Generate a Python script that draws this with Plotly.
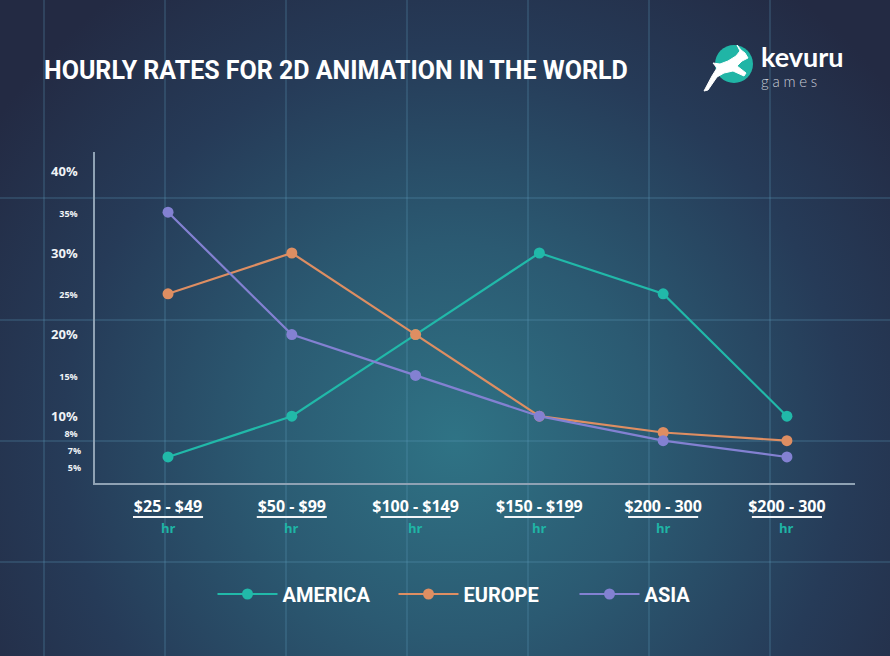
import base64
import plotly.graph_objects as go

# ---------------- data ----------------
categories = ["$25 - $49", "$50 - $99", "$100 - $149", "$150 - $199", "$200 - 300", "$200 - 300"]
unit_label = "hr"
america = [5, 10, 20, 30, 25, 10]
europe = [25, 30, 20, 10, 8, 7]
asia = [35, 20, 15, 10, 7, 5]
y_ticks_major = [10, 20, 30, 40]
y_ticks_minor = [8, 15, 25, 35]
y_ticks_lower = [7, 5]   # labels drawn just below their ticks (avoids crowding)
title = "HOURLY RATES FOR 2D ANIMATION IN THE WORLD"

# ---------------- layout geometry ----------------
W, H = 890, 656
L, R, T, B = 95, 855, 152, 483  # plot area in pixels
Y_RANGE = [1.81, 42.38]


def px(x):
    return (x - L) / (R - L)


def py(y):
    return (B - y) / (B - T)


# ---------------- background (gradient + grid) as svg ----------------
grid_x = [44, 165, 286, 407, 528, 649, 770]
grid_y = [198, 320, 441, 562]
lines = "".join(
    f'<line x1="{gx}" y1="0" x2="{gx}" y2="{H}" stroke="#5f9cbc" stroke-opacity="0.3" stroke-width="1.5"/>'
    for gx in grid_x
) + "".join(
    f'<line x1="0" y1="{gy}" x2="{W}" y2="{gy}" stroke="#5f9cbc" stroke-opacity="0.3" stroke-width="1.5"/>'
    for gy in grid_y
)
svg = f'''<svg xmlns="http://www.w3.org/2000/svg" width="{W}" height="{H}" viewBox="0 0 {W} {H}">
<defs><radialGradient id="g" cx="455" cy="440" r="560" gradientUnits="userSpaceOnUse">
<stop offset="0" stop-color="#2f7385"/>
<stop offset="0.35" stop-color="#2b5a72"/>
<stop offset="0.7" stop-color="#263b58"/>
<stop offset="1" stop-color="#232a43"/>
</radialGradient></defs>
<rect width="{W}" height="{H}" fill="url(#g)"/>
{lines}
</svg>'''
bg_uri = "data:image/svg+xml;base64," + base64.b64encode(svg.encode()).decode()

# ---------------- traces ----------------
xs = list(range(len(categories)))
# ASIA sits on an overlaid copy of the same y scale (matches="y"),
# so that copy can carry the bottom tick labels placed below their ticks
series = [("AMERICA", america, "#21b9a9", "y"), ("EUROPE", europe, "#de8e62", "y"),
          ("ASIA", asia, "#8381d2", "y2")]

fig = go.Figure()
for name, vals, col, yax in series:
    fig.add_trace(go.Scatter(
        x=xs, y=vals, name=name, mode="lines+markers", yaxis=yax,
        line=dict(color=col, width=2.2),
        marker=dict(color=col, size=11),
        customdata=categories,
        hovertemplate="%{customdata}: %{y}%<extra>" + name + "</extra>",
    ))


def small(v):
    return f"<span style='font-size:9px'><b>{v}%</b></span>"


main_ticks = sorted(y_ticks_major + y_ticks_minor)
main_text = [f"<b>{v}%</b>" if v in y_ticks_major else small(v) for v in main_ticks]

shapes = []
annotations = []
for i, _ in enumerate(categories):
    shapes.append(dict(type="line", xref="x", yref="paper", x0=i - 0.283, x1=i + 0.283,
                       y0=py(517), y1=py(517), line=dict(color="#f2f4f7", width=2)))
    annotations.append(dict(xref="x", yref="paper", x=i, y=py(528), text=f"<b>{unit_label}</b>",
                            showarrow=False, xanchor="center", yanchor="middle",
                            font=dict(family="Open Sans", size=13, color="#1fb5a6")))

# title
annotations.append(dict(xref="paper", yref="paper", x=px(42), y=py(70), text=title, showarrow=False,
                        xanchor="left", yanchor="middle",
                        font=dict(family="Roboto", size=25, color="#ffffff", weight="bold")))

# logo
shapes.append(dict(type="circle", xref="paper", yref="paper", x0=px(715), x1=px(753), y0=py(83), y1=py(45),
                   fillcolor="#20b5a6", line=dict(width=0)))
deer = [(748, 58), (745, 53), (741, 50), (737, 45), (740, 51), (736, 56), (728, 61), (720, 64), (713, 63),
        (717, 68), (712, 76), (704, 91), (708, 90), (717, 77), (724, 73), (733, 71), (744, 76), (746, 73),
        (737, 66), (742, 61)]
path = "M " + " L ".join(f"{px(a):.5f},{py(b):.5f}" for a, b in deer) + " Z"
shapes.append(dict(type="path", xref="paper", yref="paper", path=path, fillcolor="#ffffff",
                   line=dict(color="#ffffff", width=1)))
annotations.append(dict(
    xref="paper", yref="paper", x=px(759), y=py(65), showarrow=False, xanchor="left", yanchor="middle",
    align="left",
    text="<span style='font-size:27px;font-weight:bold;color:#ffffff'>kevuru</span><br>"
         "g\u2009\u2009a\u2009\u2009m\u2009\u2009e\u2009\u2009s",
    font=dict(family="Lato", size=15, color="#c9cdd6", weight=300)))

yfont = dict(family="Open Sans", size=13, color="#f0f3f6")
common_y = dict(range=Y_RANGE, tickmode="array", tickfont=yfont, showgrid=False, zeroline=False,
                ticks="", ticklabelstandoff=13)

fig.update_layout(
    width=W, height=H,
    margin=dict(l=L, r=W - R, t=T, b=H - B, pad=0),
    paper_bgcolor="#232a43", plot_bgcolor="rgba(0,0,0,0)",
    images=[dict(source=bg_uri, xref="paper", yref="paper", x=px(0), y=py(0),
                 sizex=W / (R - L), sizey=H / (B - T), xanchor="left", yanchor="top",
                 sizing="stretch", layer="below")],
    shapes=shapes, annotations=annotations,
    showlegend=True,
    legend=dict(orientation="h", x=px(484), xanchor="center", y=py(594), yanchor="middle",
                font=dict(family="Roboto", size=20, color="#ffffff", weight="bold"),
                itemwidth=60, bgcolor="rgba(0,0,0,0)", entrywidth=106),
    xaxis=dict(range=[-0.59, 5.55], tickmode="array", tickvals=xs,
               ticktext=[f"<b>{c}</b>" for c in categories],
               tickfont=dict(family="Open Sans", size=16, color="#ffffff"),
               showgrid=False, zeroline=False, showline=True, linecolor="#8fa2b4", linewidth=1.5,
               ticks="", ticklabelstandoff=8),
    yaxis=dict(tickvals=main_ticks, ticktext=main_text, showline=True, linecolor="#8fa2b4", linewidth=1.5,
               **common_y),
    yaxis2=dict(overlaying="y", anchor="x", side="left", matches="y", tickvals=y_ticks_lower,
                ticktext=[small(v) for v in y_ticks_lower], ticklabelposition="outside bottom",
                showline=False, **common_y),
)

fig.write_html("out.html")
